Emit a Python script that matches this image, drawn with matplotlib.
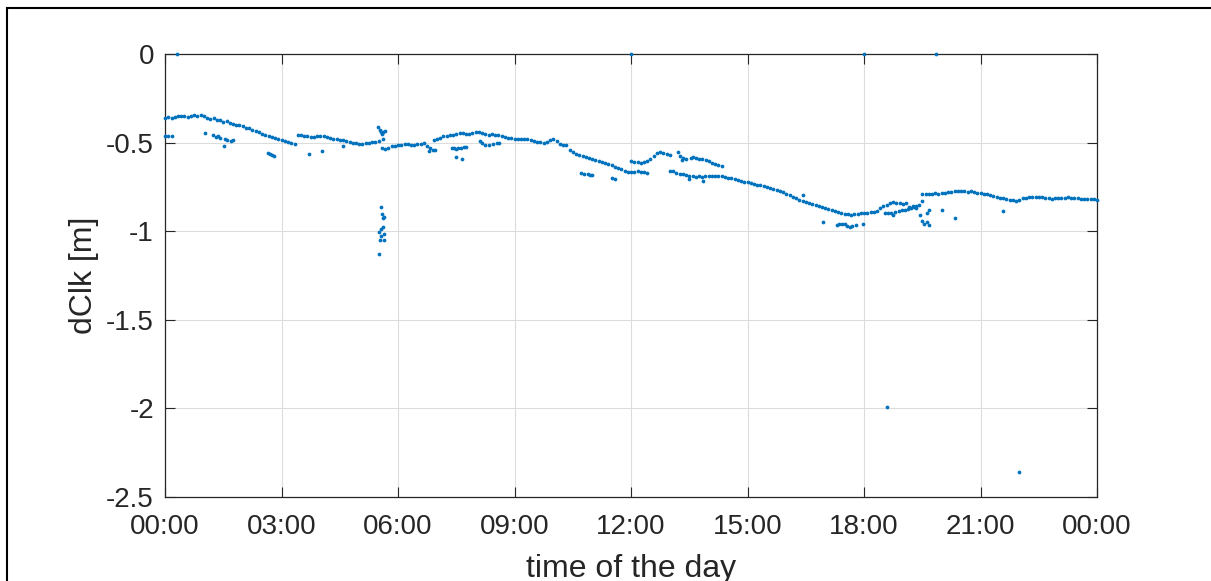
import numpy as np
import matplotlib
matplotlib.use("Agg")
import matplotlib.pyplot as plt
from matplotlib.patches import Rectangle

plt.rcParams.update({
    "font.family": ["Liberation Sans", "DejaVu Sans"],
    "axes.unicode_minus": False,
})

BLUE = "#0072BD"
INK = "#262626"

# clock offset, one value every 5 min (rows = hours 00..23), last value at 24:00
nan = np.nan
dclk_rows = [
    [-0.360, -0.358, -0.362, -0.355, -0.350, -0.352, -0.348, -0.355, -0.350, -0.345, -0.350, -0.347],
    [-0.352, -0.360, -0.365, -0.362, -0.370, -0.375, -0.382, -0.378, -0.390, -0.395, -0.402, -0.398],
    [-0.405, -0.415, -0.420, -0.428, -0.435, -0.440, -0.450, -0.458, -0.462, -0.468, -0.472, -0.478],
    [-0.485, -0.490, -0.495, -0.500, -0.508, -0.455, -0.460, -0.462, -0.465, -0.468, -0.466, -0.465],
    [-0.462, -0.465, -0.470, -0.475, -0.480, -0.478, -0.484, -0.488, -0.492, -0.495, -0.500, -0.503],
    [-0.508, -0.510, -0.505, -0.500, -0.498, -0.495, -0.493, -0.530, -0.535, -0.528, -0.522, -0.519],
    [-0.515, -0.512, -0.510, -0.508, -0.512, -0.514, -0.510, -0.508, -0.505, -0.520, -0.530, -0.485],
    [-0.478, -0.472, -0.465, -0.462, -0.460, -0.455, -0.452, -0.448, -0.446, -0.450, -0.452, -0.445],
    [-0.440, -0.442, -0.445, -0.450, -0.455, -0.452, -0.455, -0.460, -0.465, -0.470, -0.472, -0.476],
    [-0.478, -0.478, -0.480, -0.482, -0.480, -0.485, -0.490, -0.495, -0.498, -0.502, -0.495, -0.485],
    [-0.480, -0.490, -0.508, -0.512, -0.515, -0.540, -0.555, -0.562, -0.570, -0.578, -0.582, -0.585],
    [-0.592, -0.598, -0.605, -0.610, -0.615, -0.620, -0.628, -0.635, -0.642, -0.650, -0.660, -0.668],
    [-0.668, -0.665, -0.662, -0.665, -0.668, -0.670, nan, nan, nan, nan, nan, nan],
    [-0.658, -0.662, -0.670, -0.676, -0.680, -0.685, -0.688, -0.690, -0.692, -0.690, -0.694, -0.690],
    [-0.688, -0.686, -0.690, -0.686, -0.690, -0.694, -0.698, -0.702, -0.708, -0.712, -0.716, -0.720],
    [-0.725, -0.730, -0.735, -0.738, -0.742, -0.745, -0.750, -0.756, -0.762, -0.768, -0.774, -0.780],
    [-0.788, -0.795, -0.805, -0.815, -0.822, -0.830, -0.837, -0.840, -0.845, -0.850, -0.858, -0.866],
    [-0.872, -0.875, -0.880, -0.885, -0.890, -0.898, -0.903, -0.905, -0.906, -0.904, -0.902, -0.900],
    [-0.898, -0.895, -0.892, -0.890, -0.885, -0.870, -0.860, -0.850, -0.842, -0.838, -0.840, -0.842],
    [-0.845, -0.843, -0.862, -0.860, -0.858, -0.855, -0.790, -0.788, -0.792, -0.790, -0.786, -0.790],
    [-0.785, -0.782, -0.780, -0.778, -0.776, -0.775, -0.772, -0.775, -0.778, -0.776, -0.779, -0.782],
    [-0.785, -0.788, -0.792, -0.796, -0.800, -0.805, -0.810, -0.815, -0.818, -0.822, -0.826, -0.828],
    [-0.822, -0.815, -0.810, -0.806, -0.805, -0.807, -0.805, -0.808, -0.810, -0.815, -0.818, -0.815],
    [-0.814, -0.812, -0.810, -0.808, -0.812, -0.815, -0.810, -0.820, -0.818, -0.816, -0.818, -0.820],
]
dclk_end = -0.824

# second solution branch between 12:00 and 14:20 (hours, metres)
branch_t = [12.0, 12.08, 12.17, 12.25, 12.33, 12.42, 12.5, 12.58, 12.67, 12.75, 12.83, 12.92,
            13.0, 13.2, 13.25, 13.3, 13.35, 13.42, 13.55, 13.6, 13.67, 13.75, 13.83, 13.92,
            14.0, 14.08, 14.17, 14.25, 14.33]
branch_v = [-0.605, -0.61, -0.612, -0.615, -0.612, -0.605, -0.59, -0.575, -0.556, -0.552, -0.56, -0.565,
            -0.57, -0.555, -0.575, -0.6, -0.585, -0.59, -0.585, -0.58, -0.588, -0.592, -0.59, -0.598,
            -0.605, -0.615, -0.622, -0.628, -0.632]

# lower branch around 18:30-19:20
low_t = [18.55, 18.62, 18.7, 18.8, 18.9, 18.98, 19.05, 19.12, 19.2, 19.28, 19.35]
low_v = [-0.895, -0.9, -0.897, -0.892, -0.885, -0.882, -0.878, -0.875, -0.87, -0.865, -0.868]

# scattered epochs and outliers
scat_t = [0.0, 0.08, 0.18, 1.03, 1.24, 1.3, 1.36, 1.42, 1.52, 1.55, 1.6, 1.7, 1.75,
          2.65, 2.7, 2.75, 2.8, 3.7, 4.03, 4.58,
          5.49, 5.53, 5.55, 5.58, 5.62, 5.66, 5.6,
          5.57, 5.58, 5.62, 5.64, 5.6, 5.57, 5.51, 5.63, 5.55, 5.53, 5.63, 5.52,
          6.8, 6.9, 6.95, 7.4, 7.45, 7.5, 7.55, 7.62, 7.7, 7.75, 7.5, 7.65,
          8.1, 8.15, 8.25, 8.35, 8.45, 8.55, 8.6,
          10.72, 10.8, 10.9, 10.95, 11.0, 11.5, 11.58,
          13.5, 13.85, 16.43,
          16.95, 17.3, 17.35, 17.42, 17.5, 17.55, 17.63, 17.7, 17.78, 17.98,
          19.45, 19.5, 19.55, 19.62, 19.66, 19.67, 19.63, 19.5,
          18.75, 20.0, 20.35, 21.58,
          0.3, 12.0, 18.0, 19.85, 18.6, 22.0]
scat_v = [-0.463, -0.463, -0.465, -0.444, -0.46, -0.47, -0.465, -0.475, -0.519, -0.48, -0.485, -0.49, -0.485,
          -0.56, -0.566, -0.572, -0.575, -0.564, -0.546, -0.52,
          -0.41, -0.43, -0.44, -0.45, -0.44, -0.435, -0.48,
          -0.862, -0.903, -0.924, -0.92, -0.974, -0.989, -1.003, -1.016, -1.03, -1.05, -1.05, -1.129,
          -0.545, -0.54, -0.542, -0.53, -0.528, -0.535, -0.532, -0.53, -0.527, -0.525, -0.58, -0.595,
          -0.49, -0.505, -0.512, -0.515, -0.51, -0.505, -0.5,
          -0.67, -0.675, -0.68, -0.685, -0.683, -0.7, -0.705,
          -0.705, -0.715, -0.794,
          -0.95, -0.965, -0.958, -0.962, -0.96, -0.968, -0.975, -0.972, -0.965, -0.96,
          -0.91, -0.94, -0.96, -0.95, -0.965, -0.88, -0.9, -0.83,
          -0.909, -0.88, -0.924, -0.886,
          0.0, 0.0, 0.0, 0.0, -1.992, -2.36]

hour_ticks = [0, 3, 6, 9, 12, 15, 18, 21, 24]
hour_labels = ["00:00", "03:00", "06:00", "09:00", "12:00", "15:00", "18:00", "21:00", "00:00"]
y_ticks = [0, -0.5, -1, -1.5, -2, -2.5]
y_labels = ["0", "-0.5", "-1", "-1.5", "-2", "-2.5"]

main_v = np.append(np.array(dclk_rows).ravel(), dclk_end)
main_t = np.arange(main_v.size) * 5 / 60.0

fig = plt.figure(figsize=(12.11, 5.81), dpi=100)
ax = fig.add_axes([0.1363, 0.1446, 0.7696, 0.7625])

mk = dict(linestyle="none", marker="o", markersize=2.7, color=BLUE,
          markeredgewidth=0, clip_on=False, zorder=3)
ax.plot(main_t, main_v, **mk)
ax.plot(branch_t, branch_v, **mk)
ax.plot(low_t, low_v, **mk)
ax.plot(scat_t, scat_v, **mk)

ax.set_xlim(0, 24)
ax.set_ylim(-2.5, 0)
ax.set_xticks(hour_ticks)
ax.set_xticklabels(hour_labels)
ax.set_yticks(y_ticks)
ax.set_yticklabels(y_labels)
ax.tick_params(direction="in", length=7, width=0.8, top=True, right=True,
               labelsize=20, colors=INK)
ax.tick_params(axis="x", pad=12)
ax.tick_params(axis="y", pad=8)
for s in ax.spines.values():
    s.set_color(INK)
    s.set_linewidth(0.9)
ax.grid(True, color="#dcdcdc", linewidth=0.8)
ax.set_axisbelow(True)
ax.set_xlabel("time of the day", fontsize=23, color=INK, labelpad=10)
ax.set_ylabel("dClk [m]", fontsize=23, color=INK, labelpad=5)

# outer frame of the figure (left and top edges fall inside the canvas)
fig.patches.append(Rectangle((7 / 1211, -0.05), 1.1, 1 - 8 / 581 + 0.05,
                             transform=fig.transFigure, fill=False,
                             edgecolor="black", linewidth=1.5))

fig.savefig("out.png", dpi=100)
